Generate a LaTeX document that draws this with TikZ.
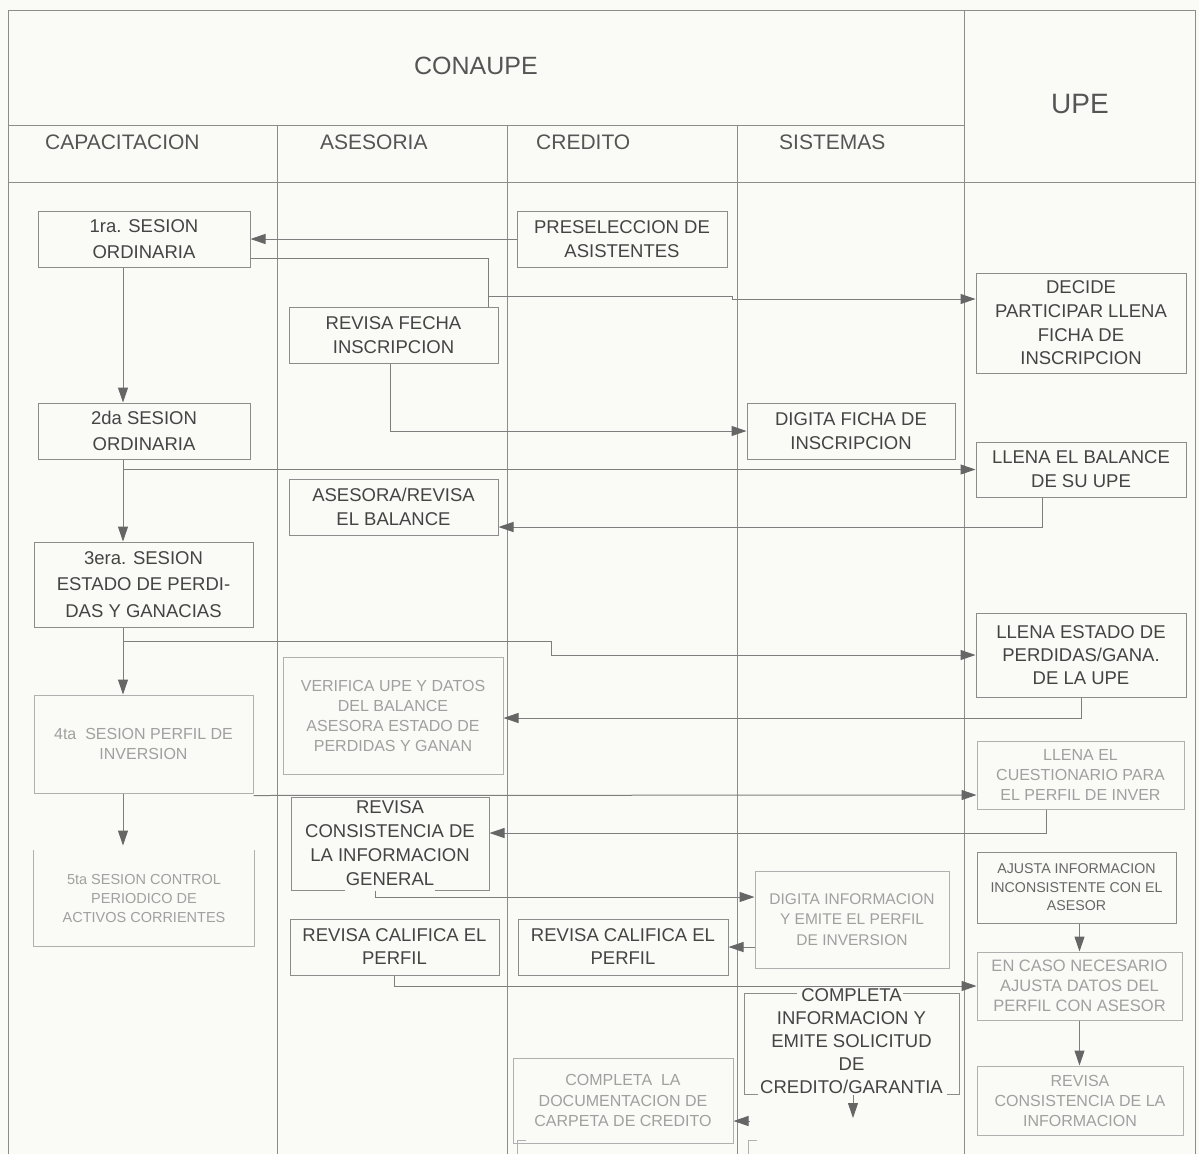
\documentclass[tikz,border=0pt]{standalone}
\usepackage{fontspec}
\setmainfont{Liberation Sans}
\usetikzlibrary{arrows.meta}
\definecolor{bgc}{HTML}{FAFAF7}
\definecolor{framec}{HTML}{8C8C8C}
\definecolor{linec}{HTML}{7E7E7E}
\definecolor{tipc}{HTML}{666666}
\definecolor{darkt}{HTML}{444444}
\definecolor{lightt}{HTML}{A0A0A0}
\definecolor{lightb}{HTML}{B0B0B0}
\definecolor{headt}{HTML}{555555}
\definecolor{midt}{HTML}{666666}
\begin{document}
\begin{tikzpicture}[x=1pt,y=-1pt,
  frame/.style={draw=framec, line width=1pt},
  dbox/.style={draw=framec, line width=1pt, inner sep=0pt, align=center, text=darkt, font=\fontsize{18.5}{24}\selectfont},
  lbox/.style={draw=lightb, line width=1pt, inner sep=0pt, align=center, text=lightt, font=\fontsize{16}{20}\selectfont},
  ln/.style={draw=linec, line width=1pt},
  arr/.style={ln, -{Triangle[length=15pt,width=10pt,color=tipc]}},
  head/.style={text=headt, font=\fontsize{21}{24}\selectfont, anchor=west, inner sep=0pt},
  erase/.style={draw=bgc, line width=2.6pt}
]
\useasboundingbox (0,0) rectangle (1199,1154);
\fill[bgc] (0,0) rectangle (1199,1154);

% lanes
\draw[frame] (8,1154) -- (8,10) -- (1195,10) -- (1195,1154);
\draw[frame] (964,10) -- (964,1154);
\draw[frame] (8,125) -- (964,125);
\draw[frame] (8,182) -- (1195,182);
\draw[frame] (277,125) -- (277,1154);
\draw[frame] (507,125) -- (507,1154);
\draw[frame] (737,125) -- (737,1154);

% headers
\node[text=headt, font=\fontsize{25}{28}\selectfont] (conaupe) at (476,66) {CONAUPE};
\node[text=headt, font=\fontsize{28}{30}\selectfont] (upe) at (1080,104) {UPE};
\node[head] (hcap) at (45,142) {CAPACITACION};
\node[head] (hase) at (320,142) {ASESORIA};
\node[head] (hcre) at (536,142) {CREDITO};
\node[head] (hsis) at (779,142) {SISTEMAS};

% boxes
\node[dbox, minimum width=212pt, minimum height=56pt, font=\fontsize{18.5}{26}\selectfont] (s1) at (144,239) {1ra. SESION\\ORDINARIA};
\node[dbox, minimum width=210pt, minimum height=56pt] (pre) at (622,239) {PRESELECCION DE\\ASISTENTES};
\node[dbox, minimum width=210pt, minimum height=100pt, font=\fontsize{18.5}{23.7}\selectfont] (dec) at (1081,323) {DECIDE\\PARTICIPAR LLENA\\FICHA DE\\INSCRIPCION};
\node[dbox, minimum width=209pt, minimum height=56pt] (rf) at (393.5,335) {REVISA FECHA\\INSCRIPCION};
\node[dbox, minimum width=208pt, minimum height=56pt] (dg1) at (851,431) {DIGITA FICHA DE\\INSCRIPCION};
\node[dbox, minimum width=212pt, minimum height=56pt, font=\fontsize{18.5}{26}\selectfont] (s2) at (144,431) {2da SESION\\ORDINARIA};
\node[dbox, minimum width=210pt, minimum height=55pt] (bal) at (1081,469.5) {LLENA EL BALANCE\\DE SU UPE};
\node[dbox, minimum width=209pt, minimum height=56pt] (ase) at (393.5,507) {ASESORA/REVISA\\EL BALANCE};
\node[dbox, minimum width=219pt, minimum height=85pt, font=\fontsize{18.5}{26.5}\selectfont] (s3) at (143.5,584.5) {3era. SESION\\ESTADO DE PERDI-\\DAS Y GANACIAS};
\node[dbox, minimum width=210pt, minimum height=84pt, font=\fontsize{18.5}{23}\selectfont] (est) at (1081,655) {LLENA ESTADO DE\\PERDIDAS/GANA.\\DE LA UPE};
\node[lbox, minimum width=220pt, minimum height=117pt] (ver) at (393,715.5) {VERIFICA UPE Y DATOS\\DEL BALANCE\\ASESORA ESTADO DE\\PERDIDAS Y GANAN};
\node[lbox, minimum width=219pt, minimum height=98pt] (s4) at (143.5,744) {4ta~ SESION PERFIL DE\\INVERSION};
\node[lbox, minimum width=207pt, minimum height=68pt] (cue) at (1080.5,775) {LLENA EL\\CUESTIONARIO PARA\\EL PERFIL DE INVER};
\node[dbox, minimum width=198pt, minimum height=93pt] (rc) at (390,843.5) {REVISA\\CONSISTENCIA DE\\LA INFORMACION\\GENERAL};
\node[lbox, draw=none, minimum width=220pt, minimum height=96pt, font=\fontsize{14.5}{19}\selectfont] (s5) at (144,898) {5ta SESION CONTROL\\PERIODICO DE\\ACTIVOS CORRIENTES};
\draw[lightb, line width=1pt] (s5.north west) -- (s5.south west) -- (s5.south east) -- (s5.north east);
\node[dbox, minimum width=199pt, minimum height=71pt, text=midt, font=\fontsize{14.2}{18.5}\selectfont] (aju) at (1076.5,887.5) {AJUSTA INFORMACION\\INCONSISTENTE CON EL\\ASESOR};
\node[lbox, minimum width=194pt, minimum height=97pt, font=\fontsize{15.5}{20.5}\selectfont] (dg2) at (852,919.5) {DIGITA INFORMACION\\Y EMITE EL PERFIL\\DE INVERSION};
\node[dbox, minimum width=209pt, minimum height=56pt, font=\fontsize{18.5}{23}\selectfont] (rca) at (394.5,947) {REVISA CALIFICA EL\\PERFIL};
\node[dbox, minimum width=210pt, minimum height=56pt, font=\fontsize{18.5}{23}\selectfont] (rcc) at (623,947) {REVISA CALIFICA EL\\PERFIL};
\node[lbox, minimum width=205pt, minimum height=68pt, font=\fontsize{16.5}{20}\selectfont] (enc) at (1079.5,986) {EN CASO NECESARIO\\AJUSTA DATOS DEL\\PERFIL CON ASESOR};
\node[dbox, minimum width=215pt, minimum height=101pt] (ci) at (851.5,1043.5) {};
\node[lbox, minimum width=220pt, minimum height=85pt, font=\fontsize{16}{20.5}\selectfont] (cd) at (623,1100.5) {COMPLETA~ LA\\DOCUMENTACION DE\\CARPETA DE CREDITO};
\node[lbox, minimum width=206pt, minimum height=69pt] (rcu) at (1080,1100.5) {REVISA\\CONSISTENCIA DE LA\\INFORMACION};

% gaps in box edges under overlapping text
\draw[erase] (345,890) -- (435,890);
\draw[erase] (797,993) -- (903,993);
\draw[erase] (758,1094) -- (947,1094);
\node[inner sep=0pt, align=center, text=darkt, font=\fontsize{18.5}{23}\selectfont] (citext) at (851.5,1041) {COMPLETA\\INFORMACION Y\\EMITE SOLICITUD\\DE\\CREDITO/GARANTIA};

% partial boxes at the bottom edge
\draw[lightb, line width=1pt] (517,1154) -- (517,1140) -- (526,1140);
\draw[lightb, line width=1pt] (748,1154) -- (748,1140) -- (757,1140);

% connectors
\coordinate (sp) at (123,0);
\draw[arr] (pre.west) -- (s1.east);
\coordinate (j1) at (488,296);
\coordinate (j2) at (732,296);
\draw[ln] ([yshift=-19pt]s1.east) -| (j1 |- rf.north);
\draw[arr] (j1) -- (j2) -- ++(0,3) -- ([yshift=24pt]dec.west);
\draw[arr] ([xshift=-3.5pt]rf.south) |- (dg1.west);
\draw[arr] (s1.south -| sp) -- (s2.north -| sp);
\draw[arr] (s2.south -| sp) -- (s3.north -| sp);
\draw[arr] (sp |- bal.west) -- (bal.west);
\draw[arr] ([xshift=-39pt]bal.south) |- ([yshift=-20pt]ase.east);
\draw[arr] (s3.south -| sp) -- (s4.north -| sp);
\coordinate (b3) at (123,641);
\coordinate (b3k) at (551,641);
\draw[arr] (b3) -- (b3k) |- (est.west);
\draw[arr] (est.south) |- ([yshift=-2.5pt]ver.east);
\draw[arr, shorten >=4pt] (s4.south -| sp) -- (s5.north -| sp);
\draw[arr] ([yshift=-2pt]s4.south east) -- ([yshift=-20pt]cue.west);
\draw[arr] ([xshift=-34.5pt]cue.south) |- ([yshift=10.5pt]rc.east);
\draw[arr] ([xshift=-15pt]rc.south) |- ([yshift=22.5pt]dg2.west);
\draw[arr] ([yshift=-27.5pt]dg2.west) -- (rcc.east);
\draw[arr] (rca.south) |- (enc.west);
\draw[arr] (enc.north |- aju.south) -- (enc.north);
\draw[arr] (enc.south) -- (enc.south |- rcu.north);
\coordinate (ce) at (853,1118);
\draw[arr] (ci.south -| ce) -- (ce);
\draw[arr] ([xshift=16pt,yshift=-20.5pt]cd.east) -- ([yshift=-20.5pt]cd.east);
\end{tikzpicture}
\end{document}
